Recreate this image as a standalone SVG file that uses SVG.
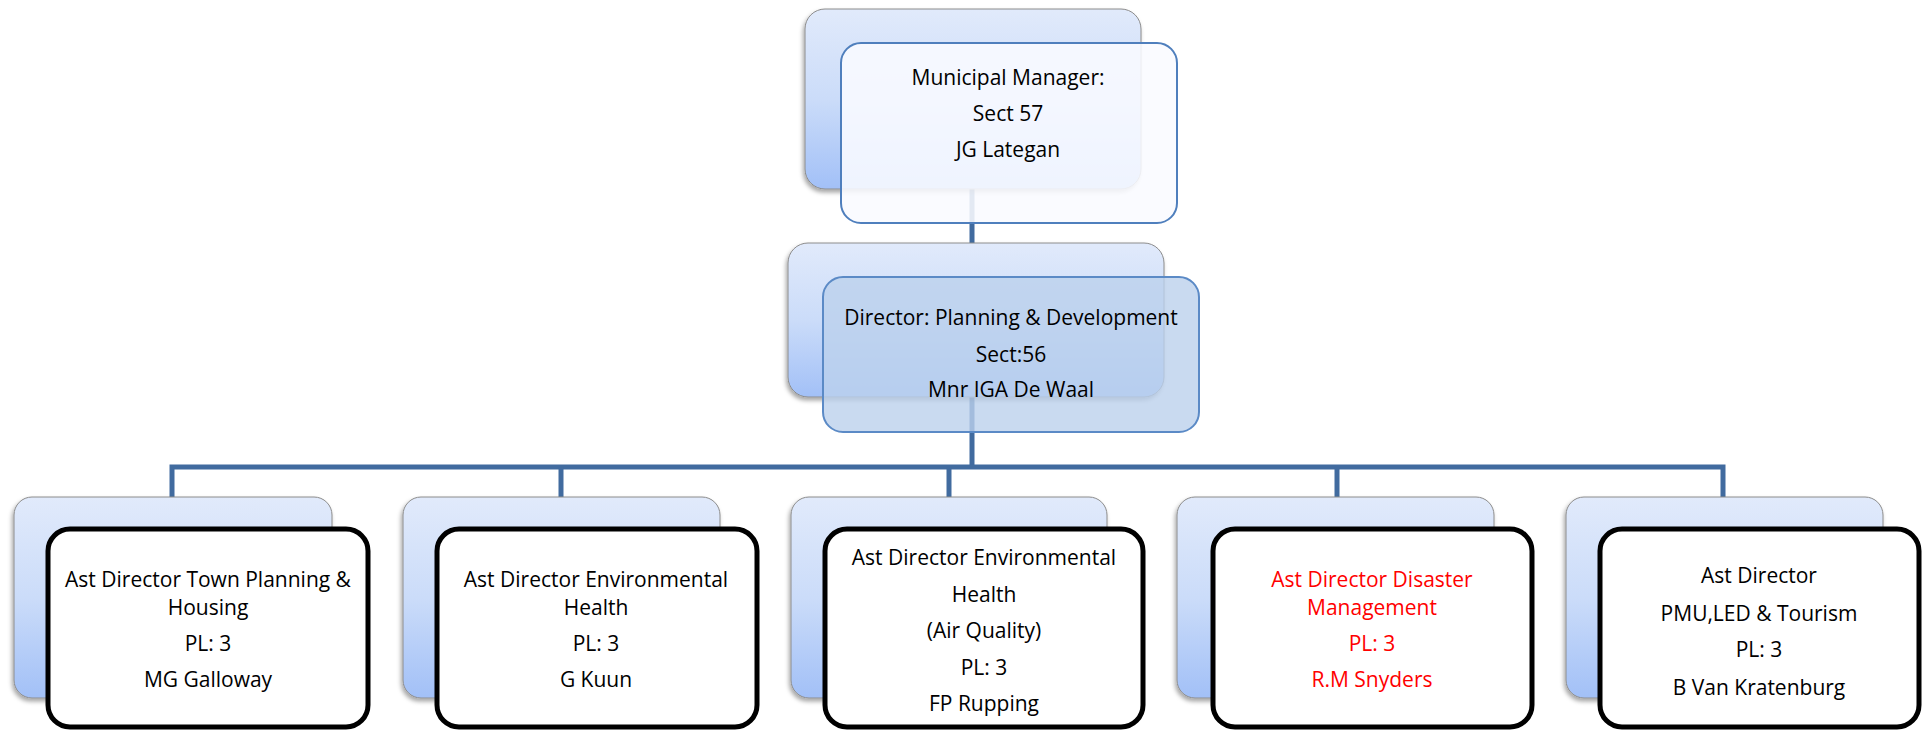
<svg xmlns="http://www.w3.org/2000/svg" width="1922" height="730" viewBox="0 0 1922 730">
  <defs>
    <linearGradient id="backFill" x1="0" y1="0" x2="0" y2="1">
      <stop offset="0" stop-color="#e1eafb"/>
      <stop offset="0.5" stop-color="#cbdcf9"/>
      <stop offset="1" stop-color="#a2c0f7"/>
    </linearGradient>
    <filter id="shadow" x="-10%" y="-10%" width="125%" height="125%">
      <feDropShadow dx="-1.5" dy="3" stdDeviation="2" flood-color="#000" flood-opacity="0.35"/>
    </filter>
  </defs>
  <style>
    .back { fill: url(#backFill); stroke: #8c8c8c; stroke-width: 1; filter: url(#shadow); }
    .frontTop { fill: #f9fbff; fill-opacity: 0.88; stroke: #4f7fbd; stroke-width: 2; }
    .frontMid { fill: #bbd1ec; fill-opacity: 0.8; stroke: #5b8ac6; stroke-width: 2; }
    .frontLow { fill: #ffffff; stroke: #000000; stroke-width: 5; }
    .link { fill: none; stroke: #416b9f; stroke-width: 5; stroke-linejoin: miter; }
    text { font-family: "Open Sans", "Liberation Sans", sans-serif; font-size: 21px; fill: #000000; text-anchor: middle; }
    .red text { fill: #ff0000; }
  </style>

  <rect width="1922" height="730" fill="#ffffff"/>

  <!-- connectors -->
  <g id="connectors">
    <path class="link" d="M972 189 V467"/>
    <path class="link" d="M172 497 V467 H1723 V497"/>
    <path class="link" d="M561 467 V497"/>
    <path class="link" d="M949 467 V497"/>
    <path class="link" d="M1337 467 V497"/>
  </g>

  <!-- Municipal Manager -->
  <g id="node-mm">
    <rect class="back" x="805" y="9" width="336" height="180" rx="20"/>
    <rect class="frontTop" x="841" y="43" width="336" height="180" rx="20"/>
    <text x="1008" y="85">Municipal Manager:</text>
    <text x="1008" y="121">Sect 57</text>
    <text x="1008" y="157">JG Lategan</text>
  </g>

  <!-- Director -->
  <g id="node-director">
    <rect class="back" x="788" y="243" width="376" height="154" rx="20"/>
    <rect class="frontMid" x="823" y="277" width="376" height="155" rx="20"/>
    <text x="1011" y="325">Director: Planning &amp; Development</text>
    <text x="1011" y="362">Sect:56</text>
    <text x="1011" y="397">Mnr IGA De Waal</text>
  </g>

  <!-- Assistant directors -->
  <g id="node-town-planning">
    <rect class="back" x="14" y="497" width="318" height="201" rx="18"/>
    <rect class="frontLow" x="48" y="529" width="320" height="198" rx="22"/>
    <text x="208" y="587">Ast Director Town Planning &amp;</text>
    <text x="208" y="615">Housing</text>
    <text x="208" y="651">PL: 3</text>
    <text x="208" y="687">MG Galloway</text>
  </g>

  <g id="node-env-health">
    <rect class="back" x="403" y="497" width="317" height="201" rx="18"/>
    <rect class="frontLow" x="437" y="529" width="320" height="198" rx="22"/>
    <text x="596" y="587">Ast Director Environmental</text>
    <text x="596" y="615">Health</text>
    <text x="596" y="651">PL: 3</text>
    <text x="596" y="687">G Kuun</text>
  </g>

  <g id="node-air-quality">
    <rect class="back" x="791" y="497" width="316" height="201" rx="18"/>
    <rect class="frontLow" x="825" y="529" width="318" height="198" rx="22"/>
    <text x="984" y="565">Ast Director Environmental</text>
    <text x="984" y="602">Health</text>
    <text x="984" y="638">(Air Quality)</text>
    <text x="984" y="675">PL: 3</text>
    <text x="984" y="711">FP Rupping</text>
  </g>

  <g id="node-disaster" class="red">
    <rect class="back" x="1177" y="497" width="317" height="201" rx="18"/>
    <rect class="frontLow" x="1213" y="529" width="319" height="198" rx="22"/>
    <text x="1372" y="587">Ast Director Disaster</text>
    <text x="1372" y="615">Management</text>
    <text x="1372" y="651">PL: 3</text>
    <text x="1372" y="687">R.M Snyders</text>
  </g>

  <g id="node-pmu-led">
    <rect class="back" x="1566" y="497" width="317" height="201" rx="18"/>
    <rect class="frontLow" x="1600" y="529" width="319" height="198" rx="22"/>
    <text x="1759" y="583">Ast Director</text>
    <text x="1759" y="621">PMU,LED &amp; Tourism</text>
    <text x="1759" y="657">PL: 3</text>
    <text x="1759" y="695">B Van Kratenburg</text>
  </g>
</svg>
